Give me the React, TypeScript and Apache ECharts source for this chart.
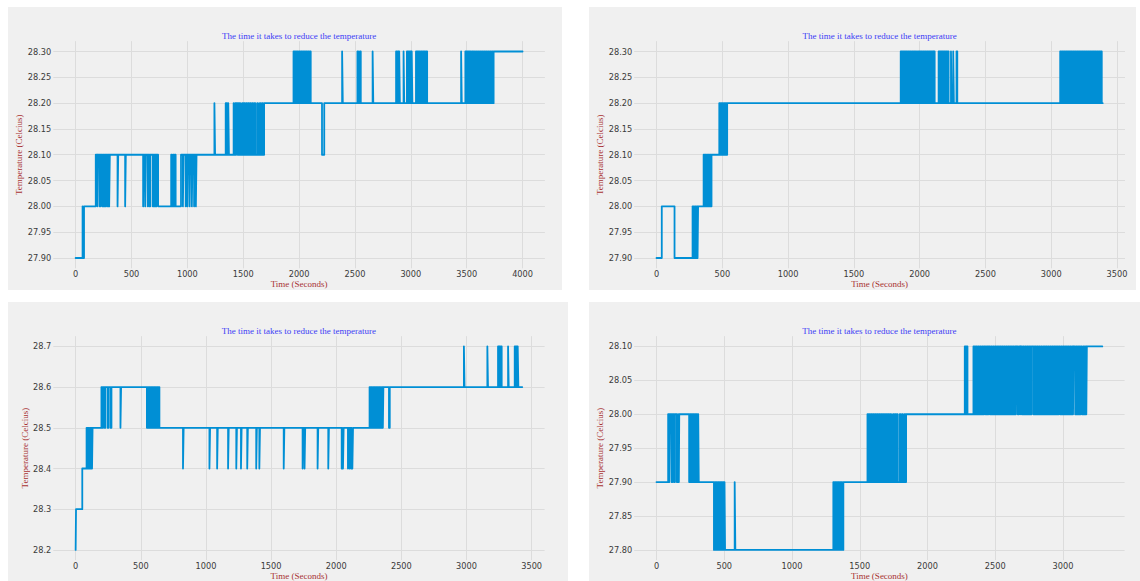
import React, { useEffect, useRef } from "react";
import * as echarts from "echarts";

const TITLE = "The time it takes to reduce the temperature";
const X_NAME = "Time (Seconds)";
const Y_NAME = "Temperature (Celcius)";

// [time (s), temperature (°C)] change points
const panel1Readings: [number, number][] = [
  [0, 27.9], [62, 28.0], [68, 27.9], [75, 28.0],
  [180, 28.1], [195, 28.0], [200, 28.1], [215, 28.0], [222, 28.1], [238, 28.0], [245, 28.1], [255, 28.0], [262, 28.1], [270, 28.0], [276, 28.1], [285, 28.0], [292, 28.1], [300, 28.0], [306, 28.1],
  [375, 28.0], [381, 28.1], [443, 28.0], [449, 28.1],
  [604, 28.0], [610, 28.1], [622, 28.0], [628, 28.1], [645, 28.0], [651, 28.1], [660, 28.0], [668, 28.1], [690, 28.0], [697, 28.1], [705, 28.0], [712, 28.1], [722, 28.0], [728, 28.1], [738, 28.0],
  [855, 28.1], [862, 28.0], [872, 28.1], [880, 28.0], [888, 28.1], [895, 28.0],
  [943, 28.1], [960, 28.0], [966, 28.1], [985, 28.0], [991, 28.1], [1000, 28.0], [1006, 28.1], [1020, 28.0], [1026, 28.1], [1040, 28.0], [1046, 28.1], [1060, 28.0], [1066, 28.1], [1076, 28.0], [1082, 28.1],
  [1242, 28.2], [1248, 28.1],
  [1343, 28.2], [1350, 28.1], [1356, 28.2], [1362, 28.1], [1366, 28.2], [1372, 28.1],
  [1414, 28.2], [1420, 28.1], [1428, 28.2], [1436, 28.1], [1442, 28.2], [1450, 28.1], [1458, 28.2], [1466, 28.1], [1474, 28.2], [1480, 28.1], [1490, 28.2], [1498, 28.1], [1506, 28.2], [1514, 28.1], [1525, 28.2], [1532, 28.1], [1542, 28.2], [1550, 28.1], [1560, 28.2], [1568, 28.1], [1580, 28.2], [1588, 28.1], [1600, 28.2], [1608, 28.1], [1625, 28.2], [1632, 28.1], [1648, 28.2], [1655, 28.1], [1668, 28.2], [1676, 28.1], [1687, 28.2],
  [1950, 28.3], [1960, 28.2], [1968, 28.3], [1976, 28.2], [1984, 28.3], [1992, 28.2], [2000, 28.3], [2008, 28.2], [2016, 28.3], [2024, 28.2], [2032, 28.3], [2040, 28.2], [2048, 28.3], [2056, 28.2], [2064, 28.3], [2072, 28.2], [2080, 28.3], [2088, 28.2], [2096, 28.3], [2104, 28.2],
  [2205, 28.1], [2225, 28.2],
  [2385, 28.3], [2391, 28.2],
  [2522, 28.3], [2530, 28.2], [2544, 28.3], [2552, 28.2],
  [2658, 28.3], [2664, 28.2],
  [2868, 28.3], [2876, 28.2], [2884, 28.3], [2892, 28.2], [2896, 28.3], [2902, 28.2],
  [2935, 28.3], [2941, 28.2],
  [2965, 28.3], [2972, 28.2], [2980, 28.3], [2987, 28.2], [2995, 28.3], [3002, 28.2], [3008, 28.3], [3014, 28.2],
  [3046, 28.3], [3054, 28.2], [3060, 28.3], [3068, 28.2], [3074, 28.3], [3082, 28.2], [3090, 28.3], [3098, 28.2], [3106, 28.3], [3114, 28.2], [3120, 28.3], [3128, 28.2], [3136, 28.3], [3146, 28.2],
  [3450, 28.3], [3456, 28.2],
  [3488, 28.3], [3496, 28.2], [3502, 28.3], [3510, 28.2], [3516, 28.3], [3524, 28.2], [3530, 28.3], [3538, 28.2], [3546, 28.3], [3554, 28.2], [3562, 28.3], [3570, 28.2], [3580, 28.3], [3588, 28.2], [3598, 28.3], [3606, 28.2], [3616, 28.3], [3624, 28.2], [3634, 28.3], [3642, 28.2], [3652, 28.3], [3660, 28.2], [3670, 28.3], [3678, 28.2], [3688, 28.3], [3696, 28.2], [3706, 28.3], [3714, 28.2], [3724, 28.3], [3732, 28.2], [3741, 28.3],
  [4000, 28.3],
];

const panel2Readings: [number, number][] = [
  [0, 27.9], [40, 28.0], [137, 27.9],
  [274, 28.0], [282, 27.9], [290, 28.0], [298, 27.9], [305, 28.0], [312, 27.9], [316, 28.0],
  [358, 28.1], [364, 28.0], [370, 28.1], [376, 28.0], [382, 28.1], [388, 28.0], [394, 28.1], [400, 28.0], [406, 28.1], [412, 28.0], [418, 28.1],
  [477, 28.2], [483, 28.1], [489, 28.2], [495, 28.1], [501, 28.2], [507, 28.1], [513, 28.2], [519, 28.1], [525, 28.2], [531, 28.1], [537, 28.2],
  [1856, 28.3], [1864, 28.2], [1870, 28.3], [1878, 28.2], [1884, 28.3], [1892, 28.2], [1898, 28.3], [1906, 28.2], [1912, 28.3], [1920, 28.2], [1926, 28.3], [1934, 28.2], [1940, 28.3], [1948, 28.2], [1954, 28.3], [1962, 28.2], [1968, 28.3], [1976, 28.2], [1984, 28.3], [1992, 28.2], [1998, 28.3], [2006, 28.2], [2012, 28.3], [2020, 28.2], [2026, 28.3], [2034, 28.2], [2040, 28.3], [2048, 28.2], [2054, 28.3], [2062, 28.2], [2068, 28.3], [2076, 28.2], [2082, 28.3], [2090, 28.2], [2096, 28.3], [2104, 28.2], [2108, 28.3], [2114, 28.2],
  [2144, 28.3], [2152, 28.2], [2158, 28.3], [2166, 28.2], [2172, 28.3], [2180, 28.2], [2186, 28.3], [2194, 28.2], [2200, 28.3], [2208, 28.2], [2214, 28.3], [2220, 28.2],
  [2238, 28.3], [2243, 28.2], [2255, 28.3], [2260, 28.2], [2280, 28.3], [2286, 28.2],
  [3068, 28.3], [3076, 28.2], [3082, 28.3], [3090, 28.2], [3096, 28.3], [3104, 28.2], [3110, 28.3], [3118, 28.2], [3124, 28.3], [3132, 28.2], [3138, 28.3], [3146, 28.2], [3152, 28.3], [3160, 28.2], [3166, 28.3], [3174, 28.2], [3180, 28.3], [3188, 28.2], [3194, 28.3], [3202, 28.2], [3208, 28.3], [3216, 28.2], [3222, 28.3], [3230, 28.2], [3236, 28.3], [3244, 28.2], [3250, 28.3], [3258, 28.2], [3264, 28.3], [3272, 28.2], [3278, 28.3], [3286, 28.2], [3292, 28.3], [3300, 28.2], [3306, 28.3], [3314, 28.2], [3320, 28.3], [3328, 28.2], [3334, 28.3], [3342, 28.2], [3348, 28.3], [3356, 28.2], [3362, 28.3], [3370, 28.2], [3376, 28.3], [3384, 28.2], [3391, 28.2],
];

const panel3Readings: [number, number][] = [
  [0, 28.2], [3, 28.3], [51, 28.4], [84, 28.5], [90, 28.4], [96, 28.5], [102, 28.4], [108, 28.5], [114, 28.4], [120, 28.5], [126, 28.4], [130, 28.5],
  [198, 28.6], [204, 28.5], [210, 28.6], [222, 28.5], [228, 28.6], [246, 28.5], [252, 28.6], [268, 28.5], [275, 28.6],
  [344, 28.5], [349, 28.6],
  [547, 28.5], [553, 28.6], [559, 28.5], [565, 28.6], [571, 28.5], [577, 28.6], [583, 28.5], [589, 28.6], [595, 28.5], [601, 28.6], [607, 28.5], [613, 28.6], [619, 28.5], [625, 28.6], [631, 28.5], [637, 28.6], [643, 28.5],
  [824, 28.4], [829, 28.5], [1027, 28.4], [1032, 28.5], [1086, 28.4], [1091, 28.5], [1170, 28.4], [1175, 28.5], [1233, 28.4], [1238, 28.5], [1269, 28.4], [1274, 28.5], [1317, 28.4], [1322, 28.5], [1386, 28.4], [1391, 28.5], [1410, 28.4], [1415, 28.5], [1597, 28.4], [1602, 28.5],
  [1742, 28.4], [1747, 28.5], [1757, 28.4], [1762, 28.5], [1857, 28.4], [1862, 28.5], [1939, 28.4], [1944, 28.5], [2042, 28.4], [2047, 28.5], [2052, 28.4], [2057, 28.5], [2090, 28.4], [2095, 28.5], [2103, 28.4], [2108, 28.5], [2115, 28.4], [2120, 28.5], [2124, 28.4], [2129, 28.5],
  [2256, 28.6], [2262, 28.5], [2268, 28.6], [2274, 28.5], [2280, 28.6], [2286, 28.5], [2292, 28.6], [2298, 28.5], [2304, 28.6], [2310, 28.5], [2316, 28.6], [2322, 28.5], [2328, 28.6], [2334, 28.5], [2340, 28.6], [2346, 28.5], [2352, 28.6], [2358, 28.5], [2362, 28.6],
  [2405, 28.5], [2411, 28.6],
  [2980, 28.7], [2985, 28.6], [3160, 28.7], [3165, 28.6], [3242, 28.7], [3248, 28.6], [3252, 28.7], [3258, 28.6], [3264, 28.7], [3270, 28.6], [3319, 28.7], [3324, 28.6], [3370, 28.7], [3376, 28.6], [3382, 28.7], [3388, 28.6], [3393, 28.7], [3398, 28.6],
  [3428, 28.6],
];

const panel4Readings: [number, number][] = [
  [0, 27.9], [86, 28.0], [95, 27.9], [100, 28.0], [112, 27.9], [118, 28.0], [130, 27.9], [136, 28.0], [150, 27.9], [160, 28.0], [165, 27.9], [168, 28.0],
  [241, 27.9], [247, 28.0], [253, 27.9], [259, 28.0], [265, 27.9], [271, 28.0], [277, 27.9], [283, 28.0], [289, 27.9], [295, 28.0], [301, 27.9], [308, 28.0], [312, 27.9],
  [424, 27.8], [430, 27.9], [436, 27.8], [442, 27.9], [448, 27.8], [454, 27.9], [460, 27.8], [466, 27.9], [472, 27.8], [478, 27.9], [484, 27.8], [490, 27.9], [496, 27.8], [502, 27.9], [506, 27.8],
  [577, 27.9], [582, 27.8],
  [1305, 27.9], [1311, 27.8], [1317, 27.9], [1323, 27.8], [1329, 27.9], [1335, 27.8], [1341, 27.9], [1347, 27.8], [1353, 27.9], [1359, 27.8], [1365, 27.9], [1371, 27.8], [1379, 27.9],
  [1557, 28.0], [1564, 27.9], [1571, 28.0], [1578, 27.9], [1585, 28.0], [1592, 27.9], [1599, 28.0], [1606, 27.9], [1613, 28.0], [1620, 27.9], [1627, 28.0], [1634, 27.9], [1641, 28.0], [1648, 27.9], [1655, 28.0], [1662, 27.9], [1669, 28.0], [1676, 27.9], [1683, 28.0], [1690, 27.9], [1697, 28.0], [1704, 27.9], [1711, 28.0], [1718, 27.9], [1725, 28.0], [1732, 27.9], [1745, 28.0], [1752, 27.9], [1759, 28.0], [1766, 27.9], [1773, 28.0], [1780, 27.9], [1795, 28.0], [1802, 27.9], [1812, 28.0], [1818, 27.9], [1830, 28.0], [1836, 27.9], [1842, 28.0],
  [2275, 28.1], [2282, 28.0], [2288, 28.1], [2295, 28.0],
  [2339, 28.1], [2347, 28.0], [2355, 28.1], [2363, 28.0], [2371, 28.1], [2379, 28.0], [2387, 28.1], [2395, 28.0], [2403, 28.1], [2411, 28.0], [2418, 28.1], [2428, 28.0], [2436, 28.1], [2444, 28.0], [2450, 28.1], [2460, 28.0], [2468, 28.1], [2476, 28.0], [2484, 28.1], [2492, 28.0], [2500, 28.1], [2508, 28.0], [2516, 28.1], [2524, 28.0], [2532, 28.1], [2540, 28.0], [2548, 28.1], [2556, 28.0], [2564, 28.1], [2572, 28.0], [2580, 28.1], [2588, 28.0], [2596, 28.1], [2604, 28.0], [2612, 28.1], [2620, 28.0], [2628, 28.1], [2636, 28.0], [2644, 28.1], [2652, 28.0], [2656, 28.1], [2666, 28.0], [2674, 28.1], [2684, 28.0], [2686, 28.1], [2696, 28.0], [2704, 28.1], [2712, 28.0], [2720, 28.1], [2728, 28.0], [2736, 28.1], [2744, 28.0], [2752, 28.1], [2760, 28.0], [2768, 28.1], [2782, 28.0], [2790, 28.1], [2798, 28.0], [2806, 28.1], [2814, 28.0], [2822, 28.1], [2830, 28.0], [2838, 28.1], [2846, 28.0], [2856, 28.1], [2864, 28.0], [2872, 28.1], [2880, 28.0], [2888, 28.1], [2896, 28.0], [2904, 28.1], [2912, 28.0], [2920, 28.1], [2928, 28.0], [2936, 28.1], [2944, 28.0], [2952, 28.1], [2960, 28.0], [2968, 28.1], [2978, 28.0], [2986, 28.1], [2994, 28.0], [3002, 28.1], [3010, 28.0], [3018, 28.1], [3026, 28.0], [3034, 28.1], [3042, 28.0], [3050, 28.1], [3058, 28.0], [3066, 28.1], [3074, 28.0], [3078, 28.1], [3090, 28.0], [3098, 28.1], [3106, 28.0], [3114, 28.1], [3122, 28.0], [3130, 28.1], [3140, 28.0], [3150, 28.1], [3158, 28.0], [3166, 28.1], [3172, 28.0], [3176, 28.1],
  [3290, 28.1],
];

// tick labels
const panel1XTicks = [0, 500, 1000, 1500, 2000, 2500, 3000, 3500, 4000];
const panel2XTicks = [0, 500, 1000, 1500, 2000, 2500, 3000, 3500];
const panel3XTicks = [0, 500, 1000, 1500, 2000, 2500, 3000, 3500];
const panel4XTicks = [0, 500, 1000, 1500, 2000, 2500, 3000];
const panel1YTicks = [27.9, 27.95, 28.0, 28.05, 28.1, 28.15, 28.2, 28.25, 28.3];
const panel2YTicks = [27.9, 27.95, 28.0, 28.05, 28.1, 28.15, 28.2, 28.25, 28.3];
const panel3YTicks = [28.2, 28.3, 28.4, 28.5, 28.6, 28.7];
const panel4YTicks = [27.8, 27.85, 27.9, 27.95, 28.0, 28.05, 28.1];

// layout (pixels) and axis ranges
const panels = [
  { data: panel1Readings, xTicks: panel1XTicks, yTicks: panel1YTicks, dec: 2, xMin: -200, xMax: 4200, yMin: 27.88, yMax: 28.32, bg: [8, 7, 554, 283], left: 53.3, top: 41.2, width: 491.6, height: 227.1, yGap: 21, xGap: 9 },
  { data: panel2Readings, xTicks: panel2XTicks, yTicks: panel2YTicks, dec: 2, xMin: -169.6, xMax: 3560.6, yMin: 27.88, yMax: 28.32, bg: [589, 7, 547, 283], left: 634.2, top: 41.2, width: 490.8, height: 227.1, yGap: 21, xGap: 9 },
  { data: panel3Readings, xTicks: panel3XTicks, yTicks: panel3YTicks, dec: 1, xMin: -171.4, xMax: 3599.4, yMin: 28.175, yMax: 28.725, bg: [8, 302, 560, 279], left: 53.3, top: 336.2, width: 491.3, height: 227.1, yGap: 21, xGap: 8 },
  { data: panel4Readings, xTicks: panel4XTicks, yTicks: panel4YTicks, dec: 2, xMin: -164.5, xMax: 3454.5, yMin: 27.785, yMax: 28.115, bg: [589, 302, 551, 279], left: 634.2, top: 336.2, width: 490.4, height: 227.1, yGap: 21, xGap: 8 },
];

const BG = "#f0f0f0";
const GRID = "#dcdcdc";
const LINE = "#008fd5";
const TICK_COLOR = "#3a3a3a";
const TITLE_COLOR = "#3c3cf5";
const LABEL_COLOR = "#a83232";
const SERIF = '"Liberation Serif", "Times New Roman", serif';
const SANS = '"DejaVu Sans", sans-serif';

export default function App() {
  const ref = useRef<HTMLDivElement>(null);
  useEffect(() => {
    if (!ref.current) return;
    const chart = echarts.init(ref.current, null, { renderer: "svg" });
    const grid: any[] = [];
    const xAxis: any[] = [];
    const yAxis: any[] = [];
    const series: any[] = [];
    const graphic: any[] = [];
    panels.forEach((p, i) => {
      graphic.push({
        type: "rect",
        z: -10,
        silent: true,
        shape: { x: p.bg[0], y: p.bg[1], width: p.bg[2], height: p.bg[3] },
        style: { fill: BG },
      });
      graphic.push({
        type: "text",
        x: p.left + p.width / 2,
        y: p.top - 5.5,
        silent: true,
        style: {
          text: TITLE,
          fill: TITLE_COLOR,
          fontSize: 9,
          fontFamily: SERIF,
          align: "center",
          verticalAlign: "middle",
        },
      });
      grid.push({ left: p.left, top: p.top, width: p.width, height: p.height, containLabel: false });
      xAxis.push({
        type: "value",
        gridIndex: i,
        min: p.xMin,
        max: p.xMax,
        name: X_NAME,
        nameLocation: "middle",
        nameGap: p.xGap,
        nameTextStyle: { color: LABEL_COLOR, fontFamily: SERIF, fontSize: 9 },
        axisLine: { show: false },
        axisTick: { show: false, customValues: p.xTicks },
        axisLabel: {
          customValues: p.xTicks,
          color: TICK_COLOR,
          fontFamily: SANS,
          fontSize: 8.2,
          margin: 2,
          formatter: (v: number) => String(Math.round(v)),
        },
        splitLine: { show: true, lineStyle: { color: GRID, width: 1 } },
      });
      yAxis.push({
        type: "value",
        gridIndex: i,
        min: p.yMin,
        max: p.yMax,
        name: Y_NAME,
        nameLocation: "middle",
        nameGap: p.yGap,
        nameRotate: 90,
        nameTextStyle: { color: LABEL_COLOR, fontFamily: SERIF, fontSize: 9 },
        axisLine: { show: false },
        axisTick: { show: false, customValues: p.yTicks },
        axisLabel: {
          customValues: p.yTicks,
          color: TICK_COLOR,
          fontFamily: SANS,
          fontSize: 8.2,
          margin: 2,
          formatter: (v: number) => v.toFixed(p.dec),
        },
        splitLine: { show: true, lineStyle: { color: GRID, width: 1 } },
      });
      series.push({
        type: "line",
        xAxisIndex: i,
        yAxisIndex: i,
        data: p.data,
        step: "end",
        showSymbol: false,
        silent: true,
        clip: false,
        lineStyle: { color: LINE, width: 1.8, cap: "round", join: "round" },
      });
    });
    chart.setOption({
      animation: false,
      backgroundColor: "#ffffff",
      graphic,
      grid,
      xAxis,
      yAxis,
      series,
    });
    return () => chart.dispose();
  }, []);
  return (
    <div
      ref={ref}
      style={{ position: "absolute", left: 0, top: 0, width: 1140, height: 581 }}
    />
  );
}
